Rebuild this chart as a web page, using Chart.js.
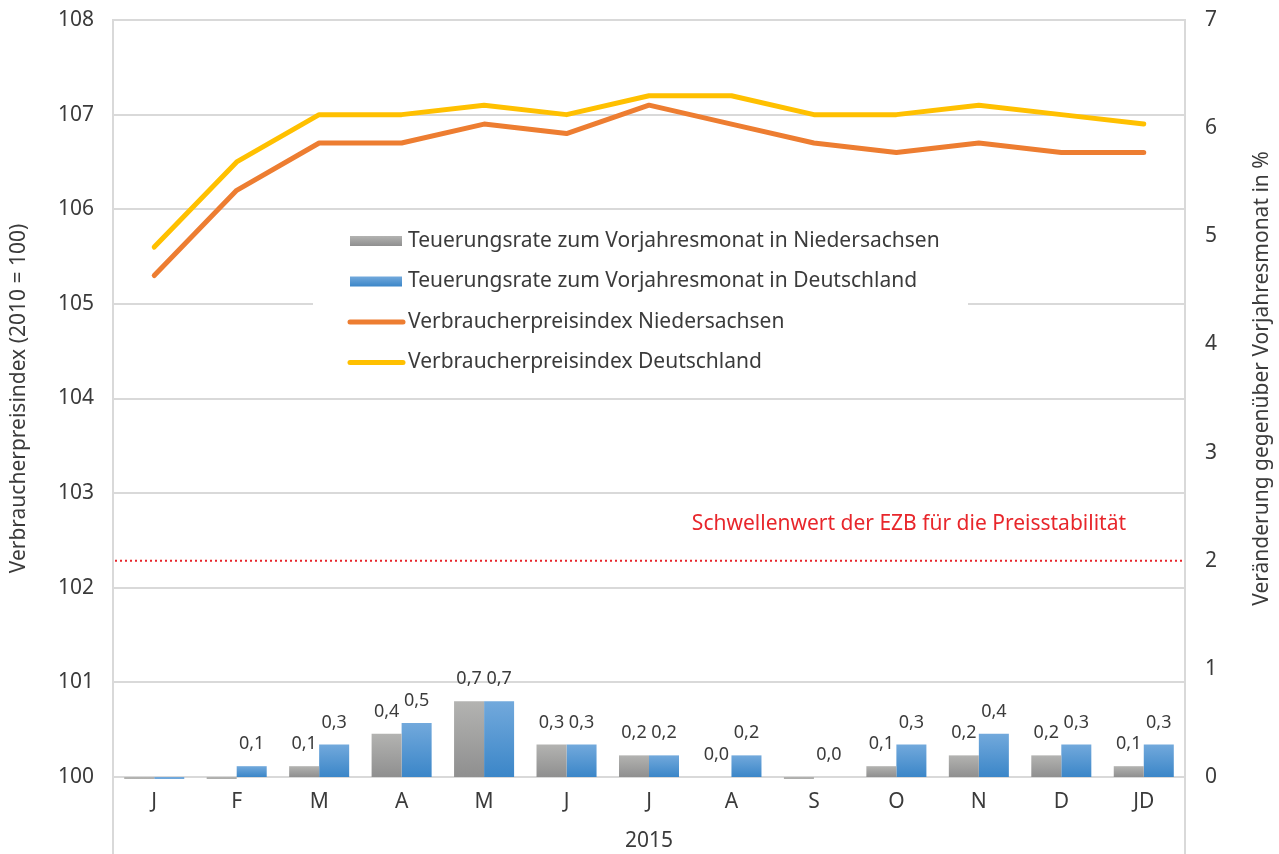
<!DOCTYPE html>
<html lang="de">
<head>
<meta charset="utf-8">
<title>Verbraucherpreisindex 2015</title>
<script src="https://cdn.jsdelivr.net/npm/chart.js@4.4.1/dist/chart.umd.min.js"></script>
<style>
  html, body { margin: 0; padding: 0; background: #fff; }
  #wrap { width: 1279px; height: 854px; position: relative; }
</style>
</head>
<body>
<div id="wrap"><canvas id="cpiChart" width="1279" height="854"></canvas></div>
<script>
// Kategorien (Monate 2015 + Jahresdurchschnitt)
const months = ['J', 'F', 'M', 'A', 'M', 'J', 'J', 'A', 'S', 'O', 'N', 'D', 'JD'];
const yearLabel = '2015';

// Teuerungsrate zum Vorjahresmonat (%), rechte Achse
const rateNds = [-0.4, -0.1, 0.1, 0.4, 0.7, 0.3, 0.2, 0.0, -0.1, 0.1, 0.2, 0.2, 0.1];
const rateDe  = [-0.3, 0.1, 0.3, 0.5, 0.7, 0.3, 0.2, 0.2, 0.0, 0.3, 0.4, 0.3, 0.3];

// Verbraucherpreisindex (2010 = 100), linke Achse
const cpiNds = [105.3, 106.2, 106.7, 106.7, 106.9, 106.8, 107.1, 106.9, 106.7, 106.6, 106.7, 106.6, 106.6];
const cpiDe  = [105.6, 106.5, 107.0, 107.0, 107.1, 107.0, 107.2, 107.2, 107.0, 107.0, 107.1, 107.0, 106.9];

// Schwellenwert der EZB (%)
const ecbThreshold = 2;

// Achsen
const leftTicks = [100, 101, 102, 103, 104, 105, 106, 107, 108];
const rightTicks = [0, 1, 2, 3, 4, 5, 6, 7];

const FONT = '"Noto Sans", "Open Sans", sans-serif';
const TEXT = '#3b3b3b';
const GRID = '#d9d9d9';
const FS = 21;

// vertical gradient for a single bar
function barGradient(colors) {
    return (ctx) => {
        const chart = ctx.chart;
        if (!chart.chartArea || ctx.raw == null) return colors[1];
        const s = chart.scales.y2;
        const y0 = s.getPixelForValue(0);
        const y1 = s.getPixelForValue(ctx.raw);
        if (Math.abs(y0 - y1) < 1) return colors[1];
        const g = chart.ctx.createLinearGradient(0, Math.min(y0, y1), 0, Math.max(y0, y1));
        g.addColorStop(0, colors[0]);
        g.addColorStop(1, colors[1]);
        return g;
    };
}
const greyCols = ['#b3b3b1', '#8f8f8f'];
const blueCols = ['#72a9dc', '#3b86c8'];

// fixed axis sizes so the plot area matches the original
function fixVertical(width) {
    return (s) => {
        s.width = width;
        s.paddingTop = 0;
        s.paddingBottom = 0;
    };
}

// Borders, threshold line and its label
const decorPlugin = {
    id: 'decor',
    beforeDatasetsDraw(chart) {
        const { ctx, chartArea: a } = chart;
        const y = chart.scales.y2.getPixelForValue(ecbThreshold);
        ctx.save();
        ctx.strokeStyle = GRID;
        ctx.lineWidth = 2;
        ctx.beginPath();
        ctx.moveTo(a.left, a.top - 1);
        ctx.lineTo(a.left, chart.height);
        ctx.moveTo(a.right, a.top - 1);
        ctx.lineTo(a.right, chart.height);
        ctx.stroke();

        ctx.strokeStyle = '#e8262b';
        ctx.lineWidth = 2;
        ctx.setLineDash([2, 3]);
        ctx.beginPath();
        ctx.moveTo(a.left + 2, y);
        ctx.lineTo(a.right - 2, y);
        ctx.stroke();
        ctx.setLineDash([]);

        ctx.fillStyle = '#e8262b';
        ctx.font = FS + 'px ' + FONT;
        ctx.textAlign = 'right';
        ctx.textBaseline = 'middle';
        ctx.fillText('Schwellenwert der EZB für die Preisstabilität', a.right - 59, y - 37);
        ctx.restore();
    }
};

// Value labels above the bars (comma decimal)
const barLabelPlugin = {
    id: 'barLabels',
    afterDatasetsDraw(chart) {
        const { ctx } = chart;
        ctx.save();
        ctx.fillStyle = TEXT;
        ctx.font = '18px ' + FONT;
        ctx.textAlign = 'center';
        ctx.textBaseline = 'middle';
        chart.data.datasets.forEach((ds, i) => {
            if (ds.type !== 'bar') return;
            chart.getDatasetMeta(i).data.forEach((el, j) => {
                const v = ds.data[j];
                if (v < 0) return;
                ctx.fillText(v.toFixed(1).replace('.', ','), el.x, el.y - 22);
            });
        });
        ctx.restore();
    }
};

// Legend box inside the plot + right axis title
const legendPlugin = {
    id: 'innerLegend',
    afterDatasetsDraw(chart) {
        const { ctx } = chart;
        const bx = 313, by = 213, bw = 655, bh = 180;
        ctx.save();
        ctx.fillStyle = '#fff';
        ctx.fillRect(bx, by, bw, bh);
        ctx.font = FS + 'px ' + FONT;
        ctx.textBaseline = 'middle';
        ctx.textAlign = 'left';
        chart.data.datasets.forEach((ds, k) => {
            const y = 241 + k * 40.5;
            if (ds.type === 'bar') {
                const cols = k === 0 ? greyCols : blueCols;
                const g = ctx.createLinearGradient(0, y - 5, 0, y + 5);
                g.addColorStop(0, cols[0]);
                g.addColorStop(1, cols[1]);
                ctx.fillStyle = g;
                ctx.fillRect(350, y - 5, 52, 10);
            } else {
                ctx.strokeStyle = ds.borderColor;
                ctx.lineWidth = 5;
                ctx.lineCap = 'round';
                ctx.beginPath();
                ctx.moveTo(350, y);
                ctx.lineTo(403, y);
                ctx.stroke();
            }
            ctx.fillStyle = TEXT;
            ctx.fillText(ds.label, 408, y);
        });

        // right axis title, reading bottom to top
        const a = chart.chartArea;
        ctx.translate(1262, (a.top + a.bottom) / 2 - 20);
        ctx.rotate(-Math.PI / 2);
        ctx.textAlign = 'center';
        ctx.fillText('Veränderung gegenüber Vorjahresmonat in %', 0, 0);
        ctx.restore();
    }
};

const chart = new Chart(document.getElementById('cpiChart'), {
    data: {
        labels: months,
        datasets: [
            {
                type: 'bar',
                label: 'Teuerungsrate zum Vorjahresmonat in Niedersachsen',
                data: rateNds,
                yAxisID: 'y2',
                backgroundColor: barGradient(greyCols),
                categoryPercentage: 0.728,
                barPercentage: 1.0,
                clip: { left: 0, top: 0, right: 0, bottom: 2 },
                order: 3
            },
            {
                type: 'bar',
                label: 'Teuerungsrate zum Vorjahresmonat in Deutschland',
                data: rateDe,
                yAxisID: 'y2',
                backgroundColor: barGradient(blueCols),
                categoryPercentage: 0.728,
                barPercentage: 1.0,
                clip: { left: 0, top: 0, right: 0, bottom: 2 },
                order: 4
            },
            {
                type: 'line',
                label: 'Verbraucherpreisindex Niedersachsen',
                data: cpiNds,
                yAxisID: 'y',
                borderColor: '#ed7d31',
                borderWidth: 5,
                borderCapStyle: 'round',
                borderJoinStyle: 'round',
                pointRadius: 0,
                tension: 0,
                order: 1
            },
            {
                type: 'line',
                label: 'Verbraucherpreisindex Deutschland',
                data: cpiDe,
                yAxisID: 'y',
                borderColor: '#ffc000',
                borderWidth: 5,
                borderCapStyle: 'round',
                borderJoinStyle: 'round',
                pointRadius: 0,
                tension: 0,
                order: 2
            }
        ]
    },
    options: {
        responsive: false,
        animation: false,
        layout: { padding: { top: 20, left: 0, right: 0, bottom: 0 } },
        plugins: {
            legend: { display: false },
            tooltip: { enabled: false }
        },
        scales: {
            x: {
                grid: { display: false, drawTicks: false },
                border: { display: false },
                ticks: { color: TEXT, font: { family: FONT, size: FS }, padding: 12, maxRotation: 0 },
                title: { display: true, text: yearLabel, color: TEXT, font: { family: FONT, size: FS }, padding: { top: 0, bottom: 0 } },
                afterFit: (s) => { s.height = 77; }
            },
            y: {
                position: 'left',
                min: leftTicks[0],
                max: leftTicks[leftTicks.length - 1],
                afterBuildTicks: (s) => { s.ticks = leftTicks.map(v => ({ value: v })); },
                grid: { color: GRID, lineWidth: 2, drawTicks: false },
                border: { display: false },
                ticks: { color: TEXT, font: { family: FONT, size: FS }, padding: 19 },
                title: { display: true, text: 'Verbraucherpreisindex (2010 = 100)', color: TEXT, font: { family: FONT, size: FS }, padding: { top: 6, bottom: 0 } },
                afterFit: fixVertical(113)
            },
            y2: {
                position: 'right',
                min: rightTicks[0],
                max: rightTicks[rightTicks.length - 1],
                afterBuildTicks: (s) => { s.ticks = rightTicks.map(v => ({ value: v })); },
                grid: { display: false, drawTicks: false },
                border: { display: false },
                ticks: { color: TEXT, font: { family: FONT, size: FS }, padding: 20 },
                afterFit: fixVertical(94)
            }
        }
    },
    plugins: [decorPlugin, barLabelPlugin, legendPlugin]
});
</script>
</body>
</html>
